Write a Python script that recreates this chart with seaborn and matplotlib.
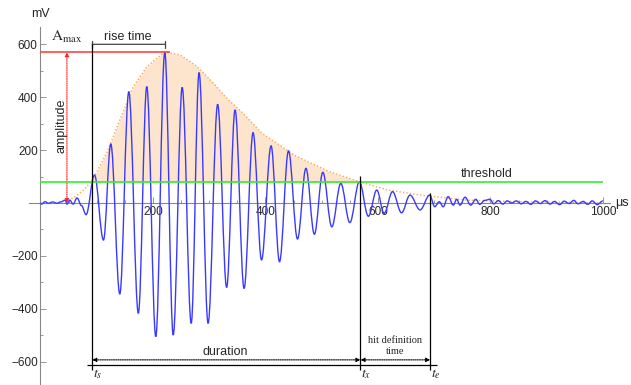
import matplotlib
matplotlib.use('Agg')
import matplotlib.pyplot as plt
import seaborn as sns
from matplotlib.path import Path
from matplotlib.patches import PathPatch
from matplotlib.ticker import FixedLocator

# waveform extrema (time in µs, signal in mV)
wave_t = [0, 2, 8, 14, 22, 29, 36, 44, 47, 52, 58, 65, 73, 81,
          96, 112, 125, 141, 157, 174, 189, 205, 221, 236, 252, 268,
          282, 298, 315, 331, 346, 362, 378, 393, 410, 425, 441, 457,
          472, 487, 502, 518, 534, 550, 567, 583, 598, 611, 626, 642,
          657, 675, 692, 701, 709, 716, 725, 734, 740, 746, 755, 765,
          774, 781, 790, 799, 806, 814, 822, 830, 838, 846, 855, 863,
          872, 880, 889, 897, 906, 914, 923, 931, 940, 948, 956, 965,
          973, 981, 990, 1000]
wave_mv = [0, -4, 5, -1, 4, -1, 4, 11, -4, 11, -4, 19, -10, -44,
           106, -140, 223, -344, 421, -417, 440, -505, 570, -499, 437, -455,
           493, -455, 373, -319, 352, -323, 266, -215, 216, -222, 197, -136,
           131, -118, 116, -90, 74, -74, 80, -50, 49, -39, 43, -37,
           30, -26, 30, -14, 5, -14, 24, -8, 14, -8, 22, -8,
           14, -5, 10, 14, -3, 9, -4, 8, 0, 8, -3, 6,
           -5, 8, -2, 9, -4, 6, -6, 7, -2, 10, -3, 6,
           -5, 8, -6, 8]

# envelope
env_t = [55, 75, 92, 118, 141, 165, 189, 221, 248, 275, 300, 334,
         360, 393, 452, 512, 569, 616, 675, 758, 850, 1000]
env_mv = [15, 45, 85, 190, 314, 440, 515, 572, 560, 522, 470, 390,
          340, 265, 180, 120, 79, 50, 30, 11, 5, 1]

threshold = 78
amax = 570
t_peak = 221
t_s, t_x, t_e = 92, 569, 693

sns.set_style('white')
plt.rcParams['font.family'] = ['Liberation Sans', 'DejaVu Sans']
plt.rcParams['mathtext.fontset'] = 'stix'

fig = plt.figure(figsize=(6.31, 3.85), dpi=100)
ax = fig.add_axes([0, 0, 1, 1])
ax.set_xlim(-72, 1050)
ax.set_ylim(-688, 767.5)

# shaded area above threshold under the envelope
ax.fill_between(env_t, env_mv, threshold,
                where=[v >= threshold for v in env_mv], interpolate=True,
                color='#fde4cc', lw=0, zorder=1)
sns.lineplot(x=env_t, y=env_mv, color='#ffa64d', lw=1, ax=ax, zorder=2)
ax.lines[-1].set_dashes((1, 1.5))

# waveform: smooth curve through the extrema (flat tangent at each peak)
verts = [(wave_t[0], wave_mv[0])]
codes = [Path.MOVETO]
for (x0, y0), (x1, y1) in zip(zip(wave_t, wave_mv), zip(wave_t[1:], wave_mv[1:])):
    h = 0.3634 * (x1 - x0)
    verts += [(x0 + h, y0), (x1 - h, y1), (x1, y1)]
    codes += [Path.CURVE4] * 3
ax.add_patch(PathPatch(Path(verts, codes), fc='none', ec='#3a3aff', lw=1, zorder=3))

ax.hlines(threshold, wave_t[0], wave_t[-1], color='#33ee33', lw=1.2, zorder=4)
ax.hlines(amax, 0, t_peak + 9, color='#ff4444', lw=1.2, zorder=4)

# time markers
ax.vlines(t_s, -632, 600, color='k', lw=0.9, zorder=5)
ax.vlines(t_x, -632, 102, color='k', lw=0.9, zorder=5)
ax.vlines(t_e, -632, 37, color='k', lw=0.9, zorder=5)
ax.hlines(-612, t_s - 10, t_e + 12, color='k', lw=0.9, zorder=5)

arrow_kw = dict(arrowstyle='<|-|>', mutation_scale=6, shrinkA=0, shrinkB=0,
                lw=0.8, ls=(0, (1, 1)))
ax.annotate('', xy=(t_x, -593), xytext=(t_s, -593),
            arrowprops=dict(color='k', **arrow_kw))
ax.annotate('', xy=(t_e, -593), xytext=(t_x, -593),
            arrowprops=dict(color='k', **arrow_kw))
ax.annotate('', xy=(47, amax), xytext=(47, 0),
            arrowprops=dict(color='#ff2222', **arrow_kw))
ax.annotate('', xy=(t_peak, 600), xytext=(t_s, 600),
            arrowprops=dict(arrowstyle='|-|, widthA=0.25, widthB=0.25',
                            color='#444444', lw=0.9, shrinkA=0, shrinkB=0))

# labels
ax.text(38, 292, 'amplitude', rotation=90, ha='center', va='center', fontsize=9)
ax.text(47, 626, r'$\mathrm{A}_{\mathrm{max}}$', ha='center', va='center', fontsize=11)
ax.text(156, 628, 'rise time', ha='center', va='center', fontsize=9)
ax.text(794, 110, 'threshold', ha='center', va='center', fontsize=9)
ax.text(329, -565, 'duration', ha='center', va='center', fontsize=9)
ax.text(630, -541, 'hit definition\ntime', family='Liberation Serif',
        ha='center', va='center', fontsize=7.5, linespacing=1.3)
for t, lab in [(t_s, r'$t_s$'), (t_x, r'$t_x$'), (t_e, r'$t_e$')]:
    ax.text(t + 1, -645, lab, ha='left', va='center', fontsize=10)
ax.text(0, 716, 'mV', ha='center', va='center', fontsize=9)
ax.text(1022, 0, 'μs', ha='left', va='center', fontsize=9)

# axes through the origin
for side in ['top', 'right']:
    ax.spines[side].set_visible(False)
ax.spines['left'].set_position(('data', 0))
ax.spines['bottom'].set_position(('data', 0))
ax.spines['left'].set_bounds(-688, 665)
ax.spines['bottom'].set_bounds(-20, 1012)
for side in ['left', 'bottom']:
    ax.spines[side].set_color('#888888')
    ax.spines[side].set_linewidth(0.8)

ax.set_xticks([200, 400, 600, 800, 1000])
ax.set_yticks([-600, -400, -200, 200, 400, 600])
ax.xaxis.set_minor_locator(FixedLocator(list(range(50, 1001, 50))))
ax.yaxis.set_minor_locator(FixedLocator(list(range(-600, 601, 100))))
ax.tick_params(which='both', bottom=True, left=True, direction='in',
               color='#888888', width=0.6)
ax.tick_params(which='major', length=4, labelsize=8.5, pad=2)
ax.tick_params(which='minor', length=2)
ax.set_xlabel('')
ax.set_ylabel('')

fig.savefig('out.png', dpi=100)
